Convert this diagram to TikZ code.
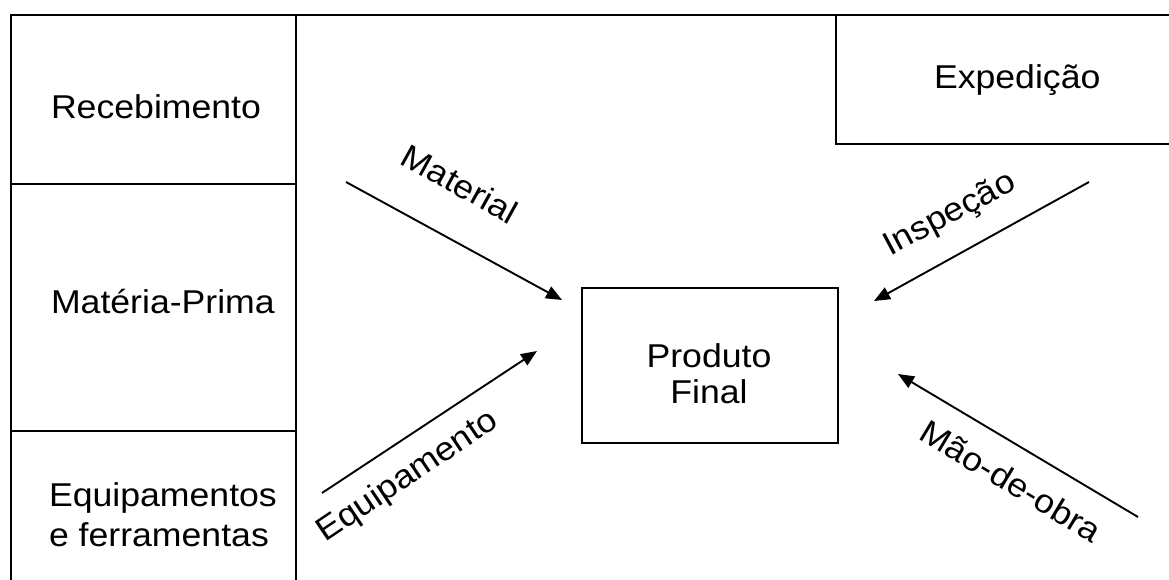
\documentclass[tikz,border=0pt]{standalone}
\usepackage{fontspec}
\setmainfont[FakeStretch=1.08]{Liberation Sans}
\usetikzlibrary{arrows.meta}
\begin{document}
\begin{tikzpicture}[x=1pt,y=-1pt,
  every node/.style={inner sep=0pt, outer sep=0pt, font=\fontsize{33}{36}\selectfont},
  frame/.style={line width=2pt, line cap=rect},
  cell/.style={anchor=base west},
  flow/.style={line width=1.9pt, -{Triangle[length=16pt,width=13pt]}},
  tag/.style={anchor=center}]
\useasboundingbox (0,0) rectangle (1169,580);

% page frame: top rule, left column and its dividers
\draw[frame] (11,580) -- (11,15) -- (1169,15);
\draw[frame] (296,15) -- (296,580);
\draw[frame] (11,184) -- (296,184);
\draw[frame] (11,431) -- (296,431);
% shipping corner
\draw[frame] (836,15) -- (836,144) -- (1169,144);

% left column entries
\node[cell] (receb) at (51,119) {Recebimento};
\node[cell] (mprima) at (51,313) {Matéria-Prima};
\node[anchor=west, align=left, font=\fontsize{33}{40}\selectfont] (equip) at (49,515) {Equipamentos\\e ferramentas};
\node[cell] (exped) at (934,89) {Expedição};

% central product box
\node[draw, line width=2pt, minimum width=256pt, minimum height=155pt] (produto) at (710,365.5) {};
\node[align=center] (produtotxt) at (709,374) {Produto\\Final};

% arrow end points
\coordinate (matA) at (346,182);   \coordinate (matB) at (562,300);
\coordinate (eqA)  at (322,493);   \coordinate (eqB)  at (537,351);
\coordinate (insA) at (1089,182);  \coordinate (insB) at (874,301);
\coordinate (maoA) at (1138,517);  \coordinate (maoB) at (898,374);

\draw[flow] (matA) -- (matB);
\draw[flow] (eqA) -- (eqB);
\draw[flow] (insA) -- (insB);
\draw[flow] (maoA) -- (maoB);

% arrow labels
\node[tag, rotate=-29] (lmat) at (460,184) {Material};
\node[tag, rotate=34] (leq) at (408,477) {Equipamento};
\node[tag, rotate=28] (lins) at (950,215) {Inspeção};
\node[tag, rotate=-31] (lmao) at (1011,481) {Mão-de-obra};
\end{tikzpicture}
\end{document}
